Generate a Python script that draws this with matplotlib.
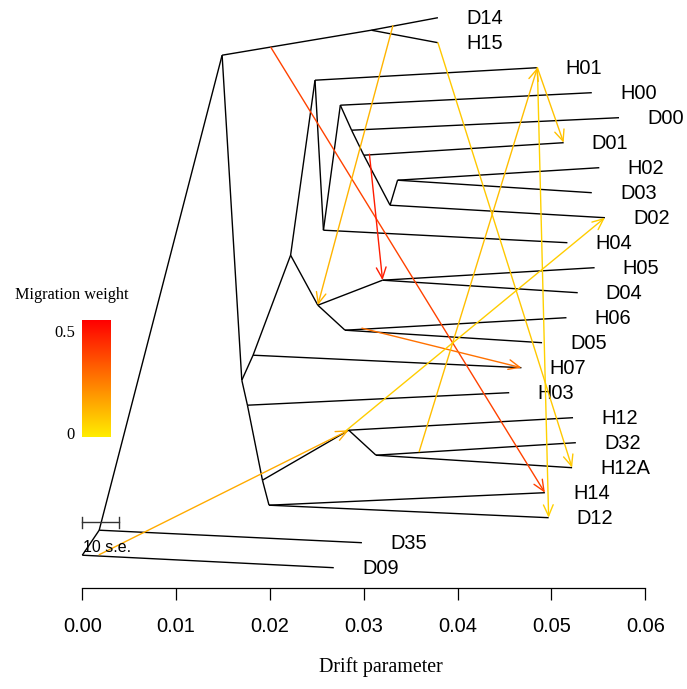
import numpy as np
import matplotlib
matplotlib.use("Agg")
import matplotlib.pyplot as plt
from matplotlib.colors import hsv_to_rgb, ListedColormap
from matplotlib.patches import FancyArrowPatch

# ---------------- data ----------------
tip_names = ["D14", "H15", "H01", "H00", "D00", "D01", "H02", "D03", "D02", "H04",
             "H05", "D04", "H06", "D05", "H07", "H03", "H12", "D32", "H12A", "H14",
             "D12", "D35", "D09"]
tip_drift = [0.0379, 0.0379, 0.0485, 0.0543, 0.0572, 0.0513, 0.0551, 0.0543, 0.0557, 0.0517,
             0.0546, 0.0528, 0.0516, 0.0490, 0.0468, 0.0455, 0.0523, 0.0526, 0.0522, 0.0493,
             0.0497, 0.0298, 0.0268]

# internal nodes: name -> (drift, vertical position)
node_names = ["R0", "S", "T", "U", "I", "M", "H", "A", "G", "B", "D", "E", "C", "F",
              "J", "K", "L", "N", "O", "P", "R", "Q"]
node_drift = [0.0000, 0.0018, 0.0149, 0.0308, 0.0170, 0.0182, 0.0222, 0.0248, 0.0257, 0.0275,
              0.0287, 0.0300, 0.0328, 0.0336, 0.0251, 0.0320, 0.0280, 0.0176, 0.0192, 0.0284,
              0.0313, 0.0199]
node_ypos = [21.5, 20.5, 1.5, 0.5, 14.5, 13.5, 9.5, 2.5, 8.5, 3.5, 4.5, 5.5, 7.5, 6.5,
             11.5, 10.5, 12.5, 15.5, 18.5, 16.5, 17.5, 19.5]

edge_parent = ["R0", "R0", "S", "S", "T", "U", "U", "T", "I", "M", "M", "H", "A", "A", "G", "G",
               "B", "B", "D", "D", "E", "E", "C", "F", "F", "C", "H", "J", "K", "K", "J", "L",
               "L", "I", "N", "N", "O", "P", "P", "R", "R", "O", "Q", "Q"]
edge_child = ["D09", "S", "D35", "T", "U", "D14", "H15", "I", "M", "H07", "H", "A", "H01", "G",
              "H04", "B", "H00", "D", "D00", "E", "D01", "C", "F", "H02", "D03", "D02", "J", "K",
              "H05", "D04", "L", "H06", "D05", "N", "H03", "O", "P", "H12", "R", "D32", "H12A",
              "Q", "H14", "D12"]

# migration edges: source point (on a branch) -> target node/tip, with weight
mig_src_x = [0.0201, 0.0306, 0.0298, 0.0331, 0.0379, 0.0485, 0.0485, 0.0359, 0.0018, 0.0280]
mig_src_y = [1.19, 5.46, 12.42, 0.32, 1.0, 2.0, 2.0, 17.36, 21.48, 16.55]
mig_target = ["H14", "K", "H07", "J", "H12A", "D01", "D12", "H01", "P", "D02"]
mig_weight = [0.36, 0.44, 0.26, 0.12, 0.08, 0.09, 0.06, 0.10, 0.14, 0.07]

xticks = [0.00, 0.01, 0.02, 0.03, 0.04, 0.05, 0.06]
xtick_labels = ["0.00", "0.01", "0.02", "0.03", "0.04", "0.05", "0.06"]
se_bar = 0.0039
cbar_max = 0.5

# ---------------- helpers ----------------
pos = {}
for n, x, i in zip(tip_names, tip_drift, range(len(tip_names))):
    pos[n] = (x, float(i))
for n, x, y in zip(node_names, node_drift, node_ypos):
    pos[n] = (x, y)

hues = np.linspace(0.155, 0.0, 256)
cmap = ListedColormap(hsv_to_rgb(np.stack([hues, np.ones(256), np.ones(256)], axis=1)))

def wcol(w):
    return cmap(min(w / cbar_max, 1.0))

sans = ["Liberation Sans", "DejaVu Sans"]
serif = ["Liberation Serif", "DejaVu Serif"]

# ---------------- figure ----------------
W, H = 687, 689
fig = plt.figure(figsize=(W / 100, H / 100), dpi=100)
ax = fig.add_axes([0, 0, 1, 1])
px_per_drift = 9383.0
x0_px, y0_px, row_px = 82.3, 17.7, 25.0
ax.set_xlim(-x0_px / px_per_drift, (W - x0_px) / px_per_drift)
ax.set_ylim((H - y0_px) / row_px, -y0_px / row_px)

# tree edges
for p, c in zip(edge_parent, edge_child):
    (x1, y1), (x2, y2) = pos[p], pos[c]
    ax.plot([x1, x2], [y1, y2], color="black", lw=1.0, solid_capstyle="butt", zorder=2)

# tip labels
for n, x, i in zip(tip_names, tip_drift, range(len(tip_names))):
    ax.text(x + 0.003, i + 0.04, n, ha="left", va="center", fontsize=14.4, family=sans)

# migration arrows
for sx, sy, t, w in zip(mig_src_x, mig_src_y, mig_target, mig_weight):
    tx, ty = pos[t]
    arr = FancyArrowPatch((sx, sy), (tx, ty), arrowstyle="->,head_length=0.8,head_width=0.35",
                          mutation_scale=10, color=wcol(w), lw=1.0, shrinkA=0, shrinkB=0,
                          zorder=3)
    ax.add_patch(arr)

# scale bar (10 s.e.)
sb_y = (522.3 - y0_px) / row_px
ax.plot([0, se_bar], [sb_y, sb_y], color="#333333", lw=1.0)
for xx in [0, se_bar]:
    ax.plot([xx, xx], [sb_y - 0.23, sb_y + 0.23], color="#333333", lw=1.0)
ax.text(0.0001, (547 - y0_px) / row_px, "10 s.e.", ha="left", va="center",
        fontsize=11.5, family=sans)

# x axis
for s in ["top", "left", "right"]:
    ax.spines[s].set_visible(False)
ax.spines["bottom"].set_position(("data", (588 - y0_px) / row_px))
ax.spines["bottom"].set_bounds(0, 0.06)
ax.spines["bottom"].set_linewidth(0.9)
ax.set_xticks(xticks)
ax.set_xticklabels(xtick_labels, fontsize=14.4, family=sans)
ax.tick_params(axis="x", direction="out", length=8.6, width=0.9, pad=12)
ax.set_yticks([])
ax.patch.set_alpha(0)

fig.text(381 / W, 1 - 667 / H, "Drift parameter", ha="center", va="center",
         fontsize=14.4, family=serif)

# colour legend
cax = fig.add_axes([81.7 / W, 1 - 437 / H, 28.3 / W, 117 / H])
grad = np.linspace(0, 1, 256).reshape(-1, 1)
cax.imshow(grad, aspect="auto", cmap=cmap, origin="lower", extent=[0, 1, 0, cbar_max])
cax.set_axis_off()
fig.text(75 / W, 1 - 333 / H, "0.5", ha="right", va="center", fontsize=12, family=serif)
fig.text(75 / W, 1 - 435 / H, "0", ha="right", va="center", fontsize=12, family=serif)
fig.text(72 / W, 1 - 295 / H, "Migration weight", ha="center", va="center",
         fontsize=11.7, family=serif)

fig.savefig("out.png", dpi=100)
